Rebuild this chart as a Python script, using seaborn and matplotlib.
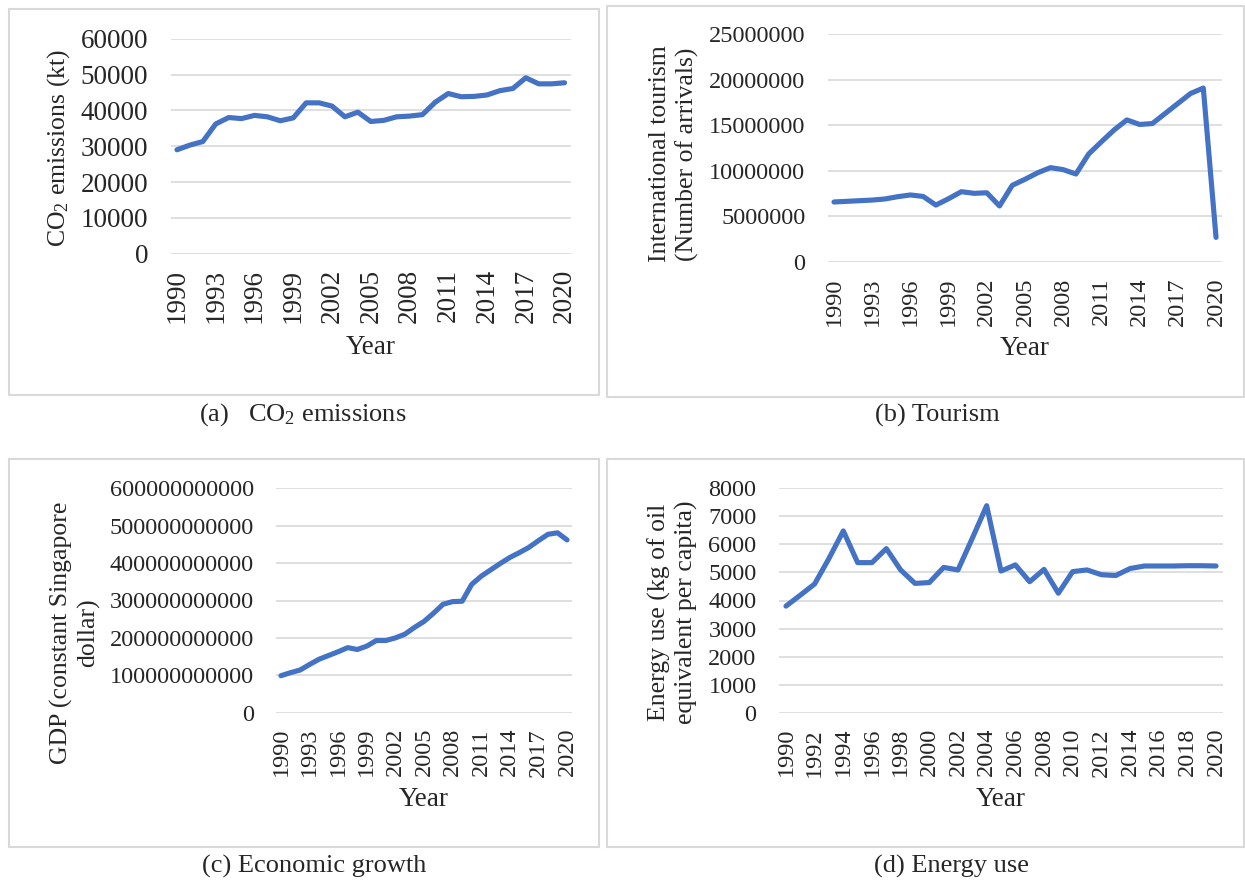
import numpy as np
import pandas as pd
import matplotlib
matplotlib.use('Agg')
import seaborn as sns
from matplotlib import pyplot as plt
from matplotlib.patches import Rectangle
from matplotlib.ticker import FuncFormatter

### Data
years = list(range(1990, 2021))
co2_kt = [29000, 30300, 31300, 36200, 38000, 37700, 38600, 38200, 37100, 37900,
          42100, 42100, 41200, 38200, 39500, 36900, 37200, 38200, 38400, 38800,
          42300, 44700, 43800, 43900, 44300, 45500, 46100, 49100, 47400, 47400, 47700]
tourism_arrivals = [6.59e6, 6.66e6, 6.73e6, 6.80e6, 6.92e6, 7.17e6, 7.36e6, 7.20e6, 6.25e6, 6.95e6,
                    7.72e6, 7.54e6, 7.60e6, 6.15e6, 8.42e6, 9.08e6, 9.80e6, 10.36e6, 10.14e6, 9.66e6,
                    11.86e6, 13.2e6, 14.5e6, 15.6e6, 15.1e6, 15.2e6, 16.3e6, 17.4e6, 18.5e6, 19.1e6, 2.7e6]
gdp_sgd = [99e9, 107e9, 114e9, 129e9, 143e9, 153e9, 163e9, 174e9, 169e9, 178e9,
           193e9, 193e9, 200e9, 210e9, 228e9, 244e9, 266e9, 290e9, 297e9, 298e9,
           343e9, 365e9, 382e9, 399e9, 415e9, 428e9, 442e9, 460e9, 477e9, 481e9, 462e9]
energy_kgoe = [3800, 4190, 4590, 5500, 6480, 5350, 5350, 5850, 5090, 4610,
               4640, 5180, 5090, 6220, 7380, 5050, 5270, 4670, 5110, 4260,
               5030, 5090, 4920, 4890, 5140, 5230, 5230, 5230, 5240, 5240, 5230]

co2_label = r'CO$_2$ emissions (kt)'
tourism_label = 'International tourism\n(Number of arrivals)'
gdp_label = 'GDP (constant Singapore\ndollar)'
energy_label = 'Energy use (kg of oil\nequivalent per capita)'
captions = [r'(a)   CO$_2$ emissions', '(b) Tourism', '(c) Economic growth', '(d) Energy use']

df = pd.DataFrame({'Year': years, 'CO2': co2_kt, 'Tourism': tourism_arrivals,
                   'GDP': gdp_sgd, 'Energy': energy_kgoe})

sns.set_style('white')
plt.rcParams['font.family'] = ['Liberation Serif', 'DejaVu Serif']
plt.rcParams['mathtext.fontset'] = 'custom'
plt.rcParams['mathtext.rm'] = 'Liberation Serif'
plt.rcParams['mathtext.it'] = 'Liberation Serif:italic'

W, H = 1245, 884
fig = plt.figure(figsize=(W / 100, H / 100), dpi=100)
fig.patch.set_facecolor('white')

def fx(px):
    return px / W

def fy(py):
    return 1 - py / H

LINE = '#4472C4'
GRID = '#D9D9D9'

def panel(col, ylabel, ymax, ystep, xstep, plot_px, box_px, ylab_px, year_py, tsize=17.5):
    left, right, top, bottom = plot_px
    ax = fig.add_axes([fx(left), fy(bottom), (right - left) / W, (bottom - top) / H])
    sns.lineplot(data=df, x='Year', y=col, ax=ax, color=LINE, linewidth=3.7)
    ax.set_xlim(1989.5, 2020.5)
    ax.set_ylim(0, ymax)
    ax.set_yticks(np.arange(0, ymax + 1, ystep))
    ax.set_xticks(years[::xstep])
    ax.yaxis.set_major_formatter(FuncFormatter(lambda v, p: '%d' % round(v)))
    for v in ax.get_yticks():
        ax.axhline(v, color=GRID, linewidth=1.2, zorder=0)
    for s in ax.spines.values():
        s.set_visible(False)
    ax.tick_params(axis='x', rotation=90, length=0, pad=11, labelsize=tsize)
    ax.tick_params(axis='y', length=0, pad=16, labelsize=tsize)
    ax.set_xlabel('')
    ax.set_ylabel('')
    fig.text(fx((left + right) / 2), fy(year_py), 'Year', ha='center', va='center', fontsize=19.5)
    fig.text(fx(ylab_px[0]), fy(ylab_px[1]), ylabel, rotation=90, ha='center', va='center',
             multialignment='center', fontsize=18.5, linespacing=1.2)
    bl, bt, br, bb = box_px
    fig.patches.append(Rectangle((fx(bl), fy(bb)), (br - bl) / W, (bb - bt) / H,
                                 transform=fig.transFigure, fill=False,
                                 edgecolor=GRID, linewidth=1.5))
    return ax

panel('CO2', co2_label, 60000, 10000, 3, (170.5, 571, 38.7, 253.7),
      (8.5, 9.5, 599, 395), (59, 148), 348, tsize=19.5)
panel('Tourism', tourism_label, 25000000, 5000000, 3, (827.6, 1222.4, 34.3, 262),
      (607, 6, 1244, 397), (674, 154), 349)
panel('GDP', gdp_label, 600000000000, 100000000000, 3, (276.2, 571.8, 488.3, 712.7),
      (8.5, 459, 599, 846.5), (75, 633), 800)
panel('Energy', energy_label, 8000, 1000, 2, (778.8, 1223.2, 488.3, 712.7),
      (607, 459, 1244, 846.5), (673, 612.5), 800, tsize=17.5)

for (cx, cy), text in zip([(303, 415), (937, 415), (314, 866), (952, 866)], captions):
    fig.text(fx(cx), fy(cy), text, ha='center', va='center', fontsize=19)

plt.savefig('out.png', dpi=100)
